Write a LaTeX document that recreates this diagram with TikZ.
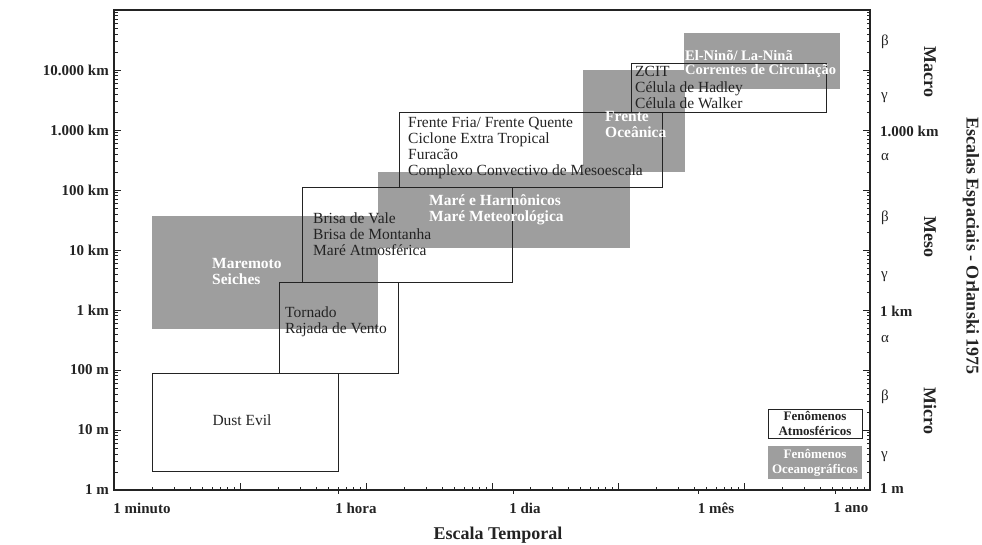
\documentclass[tikz,border=0pt]{standalone}
\usepackage{fontspec}
\setmainfont{Liberation Serif}
\usepackage{tikz}
\definecolor{oceano}{RGB}{158,158,158}
\definecolor{tinta}{RGB}{35,35,35}

\begin{document}
\begin{tikzpicture}
	[x=1pt,y=-1pt,every node/.style={inner sep=0pt, text=tinta}]
	\tikzstyle{atmos} = [draw=tinta, line width=0.9pt];
	\tikzstyle{ocean} = [fill=oceano];
	\tikzstyle{tick} = [draw=tinta, line width=0.7pt];
	\tikzstyle{fen} = [anchor=west, align=left, font=\fontsize{15.5}{16}\selectfont];
	\tikzstyle{fenb} = [anchor=west, align=left, text=white, font=\fontsize{15.5}{16}\selectfont\bfseries];
	\tikzstyle{eixo} = [font=\fontsize{15}{16}\selectfont\bfseries];
	\tikzstyle{grego} = [anchor=west, font=\fontsize{15}{16}\selectfont];
	\tikzstyle{escala} = [rotate=-90, font=\fontsize{18}{18}\selectfont\bfseries];

	\useasboundingbox (0,0) rectangle (982,545);

	% oceanographic phenomena
	\fill[ocean] (152,216) rectangle (378,329);
	\fill[ocean] (378,172) rectangle (630,248);
	\fill[ocean] (583,70) rectangle (685,172);
	\fill[ocean] (684,33) rectangle (840,89);
	\fill[ocean] (768,446) rectangle (862,479);

	% atmospheric phenomena
	\draw[atmos] (152,373) rectangle (338,471);
	\draw[atmos] (279,282) rectangle (398,373);
	\draw[atmos] (302,187) rectangle (512,282);
	\draw[atmos] (399,112) rectangle (662,187);
	\draw[atmos] (631,63) rectangle (826,112);
	\draw[atmos, fill=white] (768,409) rectangle (862,438);

	% frame and ticks
	\draw[line width=1.3pt, draw=tinta] (114,10) rectangle (870,490);
	\foreach \d in {0,...,5}{
		\draw[tick] (114+126*\d,490) -- ++(0,-7);
		\foreach \k in {2,...,9}{
			\pgfmathsetmacro{\tx}{114+126*(\d+log10(\k))}
			\draw[tick] (\tx,490) -- ++(0,-3.5);
		}
	}
	\foreach \tx in {338,513,698,835}
		\draw[tick] (\tx,490) -- ++(0,4);
	\foreach \d in {0,...,7}{
		\draw[tick] (114,490-60*\d) -- ++(7,0);
		\draw[tick] (870,490-60*\d) -- ++(-7,0);
		\foreach \k in {2,...,9}{
			\pgfmathsetmacro{\ty}{490-60*(\d+log10(\k))}
			\draw[tick] (114,\ty) -- ++(3.5,0);
			\draw[tick] (870,\ty) -- ++(-3.5,0);
		}
	}

	% texts
	\node (dust) at (242,420) {\fontsize{15.5}{16}\selectfont Dust Evil};
	\node[fen] (torn) at (285,321.5) {Tornado\\Rajada de Vento};
	\node[fen] (brisa) at (313,234) {Brisa de Vale\\Brisa de Montanha\\Maré Atmosférica};
	\node[fen] (frente) at (408,148.5) {Frente Fria/ Frente Quente\\Ciclone Extra Tropical\\Furacão\\Complexo Convectivo de Mesoescala};
	\node[fen] (zcit) at (635,87) {ZCIT\\Célula de Hadley\\Célula de Walker};
	\node[fenb] (maremoto) at (212,272) {Maremoto\\Seiches};
	\node[fenb] (mare) at (429,210) {Maré e Harmônicos\\Maré Meteorológica};
	\node[fenb] (oceanica) at (605,125) {Frente\\Oceânica};
	\node[fenb, font=\fontsize{14.5}{14}\selectfont\bfseries] (nino) at (685,64) {El-Ninõ/ La-Ninã\\Correntes de Circulação};
	\node[align=center, font=\fontsize{13}{15}\selectfont\bfseries] (legat) at (815,423.5) {Fenômenos\\Atmosféricos};
	\node[align=center, text=white, font=\fontsize{13}{15}\selectfont\bfseries] (legoc) at (815,462.5) {Fenômenos\\Oceanográficos};

	% axis labels
	\foreach \lab/\yy [count=\i] in {10.000 km/70,1.000 km/130,100 km/190,10 km/250,1 km/310,100 m/370,10 m/430,1 m/490}
		\node[eixo, anchor=east] (yl\i) at (109,\yy) {\lab};
	\node[eixo, anchor=west] (yr1) at (880,131) {1.000 km};
	\node[eixo, anchor=west] (yr2) at (880,311) {1 km};
	\node[eixo, anchor=west] (yr3) at (880,489) {1 m};
	\foreach \gr/\yy [count=\i] in {β/42,γ/98,α/157,β/218,γ/277,α/339,β/397,γ/457}
		\node[grego] (gr\i) at (881,\yy) {\gr};
	\foreach \lab/\xx [count=\i] in {1 minuto/142,1 hora/356,1 dia/525,1 mês/716,1 ano/851}
		\node[eixo] (xl\i) at (\xx,508) {\lab};
	\node[eixo, font=\fontsize{18}{18}\selectfont\bfseries] (temporal) at (498,535) {Escala Temporal};
	\node[escala] (macro) at (930,72) {Macro};
	\node[escala] (meso) at (930,237) {Meso};
	\node[escala] (micro) at (930,411) {Micro};
	\node[escala] (orlanski) at (971,246) {Escalas Espaciais - Orlanski 1975};
\end{tikzpicture}
\end{document}
